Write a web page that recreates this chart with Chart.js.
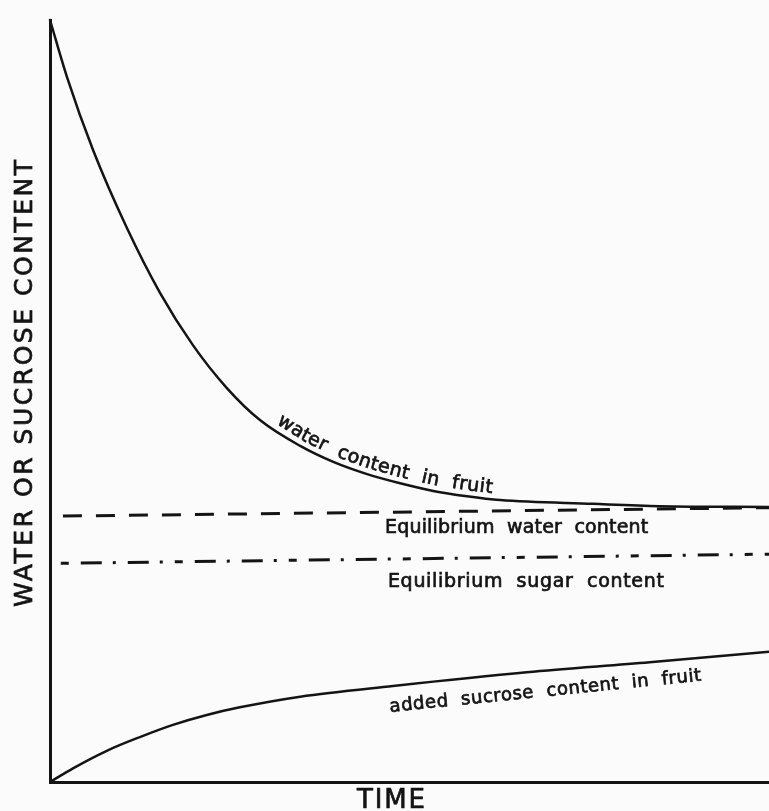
<!DOCTYPE html>
<html lang="en">
<head>
  <meta charset="UTF-8">
  <title>Water and Sucrose Content vs Time</title>
  <script src="https://cdn.jsdelivr.net/npm/chart.js"></script>
  <style>
    html, body { margin: 0; padding: 0; background: #fbfbfb; }
    #wrap { width: 769px; height: 811px; }
  </style>
</head>
<body>
  <div id="wrap"><canvas id="chart" width="769" height="811"></canvas></div>

  <script>
    // arbitrary units (time 0-100, content 0-100)
    const waterTime  = [0, 2.4, 6.0, 10.7, 15.3, 19.9, 24.6, 29.2, 34.8, 39.4, 44.1, 48.7, 53.3, 58.0, 62.6, 75.5, 84.8, 100];
    const waterValue = [100, 92.4, 82.9, 72.7, 64.2, 57.3, 51.7, 47.5, 44.1, 42.0, 40.4, 39.2, 38.2, 37.5, 37.0, 36.5, 36.2, 36.1];

    const sucroseTime  = [0, 3.2, 7.9, 12.5, 17.1, 21.8, 26.4, 34.8, 47.7, 66.3, 83.4, 100];
    const sucroseValue = [0, 1.8, 4.1, 5.9, 7.5, 8.8, 9.8, 11.2, 12.6, 14.4, 15.7, 17.1];

    const eqWaterTime  = [1.8, 100];
    const eqWaterValue = [34.9, 36.0];
    const eqSugarTime  = [1.5, 100];
    const eqSugarValue = [28.7, 29.9];

    const xTitle = 'TIME';
    const yTitle = 'WATER OR SUCROSE CONTENT';
    const ink = '#141414';
    const face = '"DejaVu Sans", "Liberation Sans", sans-serif';

    function pts(xs, ys) {
      return xs.map((x, i) => ({ x: x, y: ys[i] }));
    }

    // sets letter spacing so the text spans the given width
    function spread(ctx, text, width) {
      ctx.letterSpacing = '0px';
      const w = ctx.measureText(text).width;
      const sp = (width - w) / (text.length - 1);
      ctx.letterSpacing = sp.toFixed(2) + 'px';
      return sp;
    }

    // fill plus a thin stroke, the lettering in the original is a bit heavy
    function ink2(ctx, text, x, y) {
      ctx.fillText(text, x, y);
      ctx.strokeText(text, x, y);
    }

    // place characters one by one along a polyline of pixel points
    function textOnPath(ctx, path, text, startX, offset, width) {
      let cum = [0];
      for (let i = 1; i < path.length; i++) {
        cum.push(cum[i - 1] + Math.hypot(path[i].x - path[i - 1].x, path[i].y - path[i - 1].y));
      }
      function at(s) {
        for (let i = 1; i < path.length; i++) {
          if (s <= cum[i] || i === path.length - 1) {
            const f = (s - cum[i - 1]) / (cum[i] - cum[i - 1]);
            return { x: path[i - 1].x + f * (path[i].x - path[i - 1].x), y: path[i - 1].y + f * (path[i].y - path[i - 1].y) };
          }
        }
      }
      let s = 0;
      for (let i = 1; i < path.length; i++) {
        if (path[i].x >= startX) {
          const f = (startX - path[i - 1].x) / (path[i].x - path[i - 1].x);
          s = cum[i - 1] + f * (cum[i] - cum[i - 1]);
          break;
        }
      }
      ctx.letterSpacing = '0px';
      const spacing = (width - ctx.measureText(text).width) / (text.length - 1);
      for (const ch of text) {
        const w = ctx.measureText(ch).width;
        const mid = s + w / 2;
        const p = at(mid);
        const a = at(mid - 12), b = at(mid + 12);
        const ang = Math.atan2(b.y - a.y, b.x - a.x);
        ctx.save();
        ctx.translate(p.x, p.y);
        ctx.rotate(ang);
        ink2(ctx, ch, 0, -offset);
        ctx.restore();
        s += w + spacing;
      }
    }

    const labelPlugin = {
      id: 'labels',
      afterDraw(chart) {
        const ctx = chart.ctx;
        const xs = chart.scales.x, ys = chart.scales.y;
        ctx.save();
        ctx.fillStyle = ink;
        ctx.strokeStyle = ink;
        ctx.lineWidth = 0.7;

        // axis titles
        ctx.textAlign = 'left';
        ctx.textBaseline = 'middle';
        ctx.font = '25px ' + face;
        ctx.save();
        ctx.translate(25, 607);
        ctx.rotate(-Math.PI / 2);
        spread(ctx, yTitle, 447);
        ink2(ctx, yTitle, 0, 0);
        ctx.restore();

        ctx.font = '26px ' + face;
        spread(ctx, xTitle, 68);
        ink2(ctx, xTitle, 357, 801);

        // line labels
        ctx.textBaseline = 'alphabetic';
        ctx.font = '19px ' + face;
        const eqW = 'Equilibrium  water  content';
        spread(ctx, eqW, 263);
        ink2(ctx, eqW, xs.getPixelForValue(46.6), ys.getPixelForValue(32.7));
        const eqS = 'Equilibrium  sugar  content';
        spread(ctx, eqS, 276);
        ink2(ctx, eqS, xs.getPixelForValue(47.0), ys.getPixelForValue(25.6));

        ctx.font = '18px ' + face;
        const sucT = 'added  sucrose  content  in  fruit';
        ctx.save();
        ctx.translate(xs.getPixelForValue(47.3), ys.getPixelForValue(9.2));
        ctx.rotate(-0.1);
        spread(ctx, sucT, 313);
        ink2(ctx, sucT, 0, 0);
        ctx.restore();

        // text that follows the water curve
        const path = chart.getDatasetMeta(0).data.map(e => ({ x: e.x, y: e.y }));
        ctx.font = '19px ' + face;
        ctx.textAlign = 'center';
        textOnPath(ctx, path, 'water  content  in  fruit', 273, 6, 232);

        ctx.restore();
      }
    };

    new Chart(document.getElementById('chart').getContext('2d'), {
      type: 'line',
      data: {
        datasets: [
          { label: 'water content in fruit', data: pts(waterTime, waterValue), borderColor: ink, borderWidth: 2.5,
            cubicInterpolationMode: 'monotone', borderCapStyle: 'round', pointRadius: 0, clip: false },
          { label: 'added sucrose content in fruit', data: pts(sucroseTime, sucroseValue), borderColor: ink, borderWidth: 2.5,
            cubicInterpolationMode: 'monotone', pointRadius: 0, clip: false },
          { label: 'Equilibrium water content', data: pts(eqWaterTime, eqWaterValue), borderColor: ink, borderWidth: 3,
            borderDash: [19, 14], pointRadius: 0, clip: false },
          { label: 'Equilibrium sugar content', data: pts(eqSugarTime, eqSugarValue), borderColor: ink, borderWidth: 3,
            borderDash: [8, 12, 21, 11, 3, 12, 21, 11, 3, 12], pointRadius: 0, clip: false }
        ]
      },
      options: {
        responsive: false,
        animation: false,
        layout: { padding: { left: 0, right: 0, top: 20, bottom: 0 } },
        plugins: { legend: { display: false }, tooltip: { enabled: false } },
        scales: {
          x: {
            type: 'linear', min: 0, max: 100,
            grid: { display: false, drawTicks: false },
            ticks: { display: false },
            border: { display: true, color: ink, width: 3 },
            afterFit: s => { s.height = 29; }
          },
          y: {
            type: 'linear', min: 0, max: 100,
            grid: { display: false, drawTicks: false },
            ticks: { display: false },
            border: { display: true, color: ink, width: 3 },
            afterFit: s => { s.width = 50; }
          }
        }
      },
      plugins: [labelPlugin]
    });
  </script>
</body>
</html>
